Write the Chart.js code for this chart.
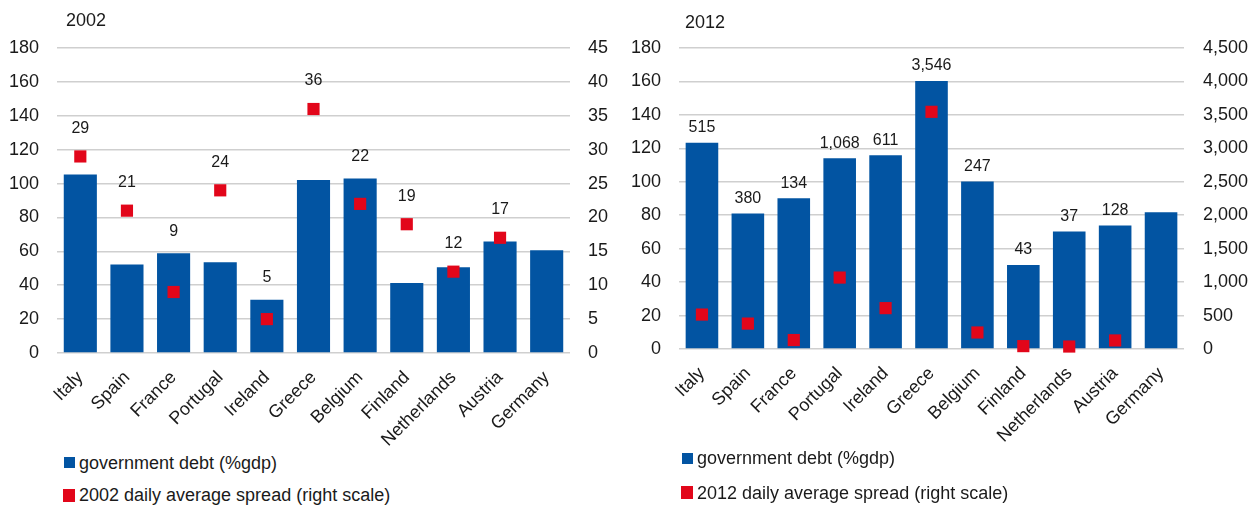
<!DOCTYPE html>
<html>
<head>
<meta charset="utf-8">
<script src="https://cdn.jsdelivr.net/npm/chart.js@4/dist/chart.umd.min.js"></script>
<style>
	body { margin: 0; background: #fff; width: 1251px; height: 506px; position: relative; overflow: hidden; font-family: 'Liberation Sans', Arial, sans-serif; color: #1a1a1a; }
	.box { position: absolute; top: 0; height: 450px; }
	.legend { position: absolute; font-size: 18px; line-height: 20px; white-space: nowrap; }
	.legend span { position: absolute; display: block; }
</style>
</head>
<body>
<div class="box" style="left:0;width:620px"><canvas id="c2002"></canvas></div>
<div class="box" style="left:625px;width:626px"><canvas id="c2012"></canvas></div>
<div id="leg2002"></div>
<div id="leg2012"></div>
<script>
const countries = ['Italy', 'Spain', 'France', 'Portugal', 'Ireland', 'Greece', 'Belgium', 'Finland', 'Netherlands', 'Austria', 'Germany'];

const debt2002 = [105.3, 52.2, 58.8, 53.5, 31.5, 102.1, 103, 41.3, 50.6, 65.8, 60.6];
const spread2002 = [29, 21, 9, 24, 5, 36, 22, 19, 12, 17, null];

const debt2012 = [123.4, 81, 90.2, 114.1, 115.8, 160.3, 100.2, 50.3, 70.2, 73.8, 81.8];
const spread2012 = [515, 380, 134, 1068, 611, 3546, 247, 43, 37, 128, null];

const BLUE = '#0254a2';
const RED = '#e2061a';
const FONT = "'Liberation Sans', Arial, sans-serif";

// year title in the top-left corner
const cornerTitle = {
	id: 'cornerTitle',
	afterDraw(chart, args, opts) {
		const { ctx, chartArea } = chart;
		ctx.save();
		ctx.font = '18px ' + FONT;
		ctx.fillStyle = '#1a1a1a';
		ctx.textAlign = 'left';
		ctx.textBaseline = 'middle';
		ctx.fillText(opts.text, chartArea.left + opts.dx, opts.y);
		ctx.restore();
	},
};

// spread values written above the higher of bar / marker
const spreadLabels = {
	id: 'spreadLabels',
	afterDatasetsDraw(chart, args, opts) {
		const { ctx } = chart;
		const bars = chart.getDatasetMeta(0).data;
		const pts = chart.getDatasetMeta(1).data;
		const values = chart.data.datasets[1].data;
		ctx.save();
		ctx.font = '16px ' + FONT;
		ctx.fillStyle = '#1a1a1a';
		ctx.textAlign = 'center';
		ctx.textBaseline = 'middle';
		values.forEach((v, i) => {
			if (v === null) return;
			const top = Math.min(bars[i].y, pts[i].y - 6);
			ctx.fillText(v.toLocaleString('en-US'), pts[i].x, top - opts.offset);
		});
		ctx.restore();
	},
};

function makeChart(id, year, debt, spread, geo) {
	const ctx = document.getElementById(id).getContext('2d');
	return new Chart(ctx, {
		type: 'bar',
		data: {
			labels: countries,
			datasets: [
				{
					label: 'government debt (%gdp)',
					data: debt,
					backgroundColor: BLUE,
					barPercentage: 0.71,
					categoryPercentage: 1,
					yAxisID: 'y',
					order: 2,
				},
				{
					type: 'line',
					label: year + ' daily average spread (right scale)',
					data: spread,
					showLine: false,
					pointStyle: 'rect',
					pointRadius: 8.6,
					pointHoverRadius: 8.6,
					pointBackgroundColor: RED,
					pointBorderWidth: 0,
					borderColor: RED,
					backgroundColor: RED,
					yAxisID: 'y1',
					clip: false,
					order: 1,
				},
			],
		},
		options: {
			responsive: true,
			maintainAspectRatio: false,
			animation: false,
			layout: { padding: { top: geo.top, left: 0, right: 0, bottom: 0 } },
			plugins: {
				legend: { display: false },
				tooltip: { enabled: false },
				cornerTitle: { text: year, dx: geo.titleDx, y: geo.titleY },
				spreadLabels: { offset: geo.labelOffset },
			},
			scales: {
				x: {
					grid: { display: false },
					border: { display: false },
					ticks: {
						color: '#1a1a1a',
						font: { family: FONT, size: 18 },
						minRotation: 45,
						maxRotation: 45,
						padding: 6,
					},
					afterFit: (s) => { s.height = geo.xHeight; },
				},
				y: {
					position: 'left',
					min: 0,
					max: 180,
					grid: { color: '#cfcfcf', lineWidth: 1.6, drawTicks: false },
					border: { display: false },
					ticks: {
						stepSize: 20,
						color: '#1a1a1a',
						font: { family: FONT, size: 18 },
						padding: geo.leftPad,
					},
					afterFit: (s) => { s.width = geo.leftWidth; },
				},
				y1: {
					position: 'right',
					min: 0,
					max: geo.rightMax,
					grid: { display: false, drawTicks: false },
					border: { display: false },
					ticks: {
						stepSize: geo.rightMax / 9,
						color: '#1a1a1a',
						font: { family: FONT, size: 18 },
						padding: geo.rightPad,
					},
					afterFit: (s) => { s.width = geo.rightWidth; },
				},
			},
		},
		plugins: [cornerTitle, spreadLabels],
	});
}

function makeLegend(id, chart, pos) {
	const el = document.getElementById(id);
	el.className = 'legend';
	chart.data.datasets.forEach((ds, i) => {
		const p = pos[i];
		const sq = document.createElement('span');
		sq.style.cssText = `left:${p.bx}px;top:${p.by}px;width:${p.bw}px;height:${p.bh}px;background:${ds.backgroundColor}`;
		const tx = document.createElement('span');
		tx.textContent = ds.label;
		tx.style.cssText = `left:${p.tx}px;top:${p.ty - 10}px`;
		el.appendChild(sq);
		el.appendChild(tx);
	});
}

const chart2002 = makeChart('c2002', '2002', debt2002, spread2002, {
	top: 48, xHeight: 97, leftWidth: 57, leftPad: 18, rightWidth: 50, rightPad: 18,
	rightMax: 45, titleDx: 9, titleY: 21, labelOffset: 22,
});
const chart2012 = makeChart('c2012', '2012', debt2012, spread2012, {
	top: 48, xHeight: 101, leftWidth: 54, leftPad: 18, rightWidth: 67, rightPad: 19,
	rightMax: 4500, titleDx: 6, titleY: 23, labelOffset: 15,
});

makeLegend('leg2002', chart2002, [
	{ bx: 64, by: 457, bw: 11, bh: 11, tx: 79, ty: 463 },
	{ bx: 63, by: 489, bw: 12, bh: 13, tx: 79, ty: 495 },
]);
makeLegend('leg2012', chart2012, [
	{ bx: 682, by: 453, bw: 11, bh: 11, tx: 697, ty: 458 },
	{ bx: 681, by: 486, bw: 12, bh: 13, tx: 697, ty: 493 },
]);
</script>
</body>
</html>
